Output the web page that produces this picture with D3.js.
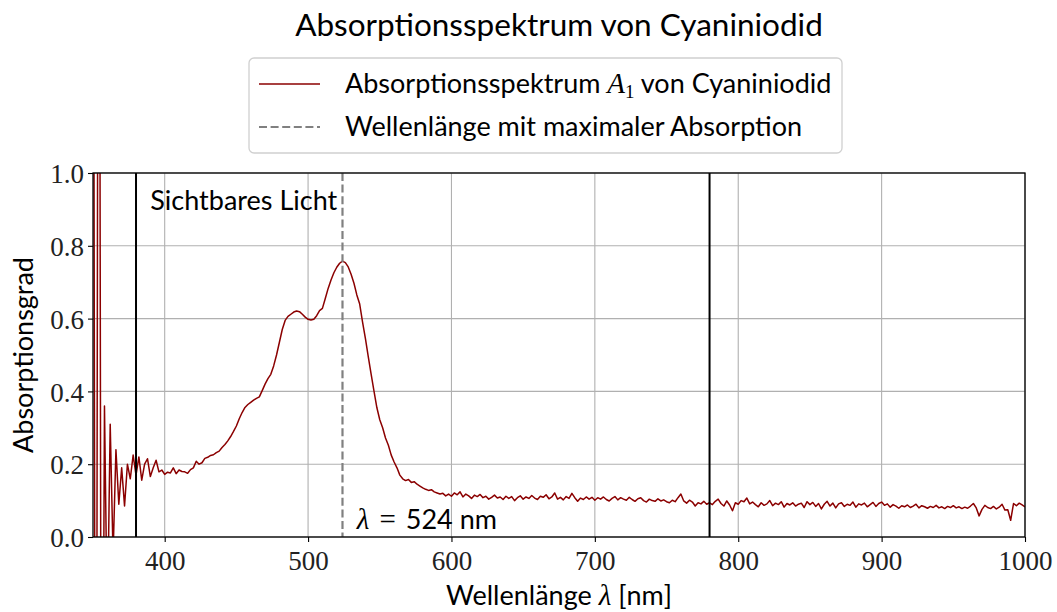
<!DOCTYPE html>
<html>
    <head>
        <meta charset="utf-8">
        <title>Absorptionsspektrum</title>
        <style>
            body { margin: 0; background: #fff; }
            .sans { font-family: Lato, "Open Sans", sans-serif; }
            .serif { font-family: "Liberation Serif", "DejaVu Serif", serif; }
        </style>
    </head>
    <body>

        <script type="text/javascript" src="https://d3js.org/d3.v7.min.js"></script>
        <script type="text/javascript">
            // wavelengths: 350 nm to 1000 nm in 2 nm steps
            var lambdaStart = 350;
            var lambdaStep = 2;
            var absorbance = [
                // 350 - 398
                2.6, -1.9, 3.0, -1.4, 0.36, -0.25, 0.31, -0.05, 0.24, 0.09,
                0.19, 0.085, 0.20, 0.16, 0.225, 0.17, 0.22, 0.156, 0.20, 0.215,
                0.166, 0.19, 0.211, 0.179, 0.184,
                // 400 - 448
                0.172, 0.178, 0.176, 0.19, 0.174, 0.184, 0.18, 0.179, 0.175, 0.185,
                0.19, 0.208, 0.2, 0.204, 0.216, 0.219, 0.224, 0.226, 0.232, 0.236,
                0.246, 0.254, 0.264, 0.276, 0.29,
                // 450 - 498
                0.305, 0.325, 0.342, 0.356, 0.364, 0.37, 0.376, 0.381, 0.385, 0.402,
                0.42, 0.435, 0.447, 0.47, 0.5, 0.535, 0.57, 0.595, 0.606, 0.612,
                0.618, 0.621, 0.619, 0.612, 0.604,
                // 500 - 548
                0.598, 0.596, 0.598, 0.608, 0.622, 0.628, 0.655, 0.683, 0.706, 0.726,
                0.741, 0.752, 0.758, 0.754, 0.742, 0.722, 0.697, 0.665, 0.64, 0.59,
                0.545, 0.495, 0.447, 0.40, 0.355,
                // 550 - 598
                0.322, 0.30, 0.272, 0.252, 0.225, 0.206, 0.19, 0.17, 0.16, 0.155,
                0.158, 0.15, 0.152, 0.145, 0.14, 0.135, 0.131, 0.128, 0.13, 0.124,
                0.121, 0.118, 0.12, 0.113, 0.118,
                // 600 - 700
                0.112, 0.121, 0.116, 0.124, 0.110, 0.118, 0.113, 0.106, 0.115, 0.111,
                0.117, 0.108, 0.112, 0.104, 0.109, 0.115, 0.107, 0.110, 0.103, 0.112,
                0.106, 0.111, 0.100, 0.108, 0.113, 0.104, 0.110, 0.106, 0.114, 0.107,
                0.103, 0.112, 0.109, 0.116, 0.105, 0.110, 0.121, 0.104, 0.109, 0.102,
                0.111, 0.106, 0.120, 0.108, 0.098, 0.107, 0.103, 0.110, 0.104, 0.109,
                0.101,
                // 702 - 800
                0.108, 0.104, 0.110, 0.103, 0.099, 0.106, 0.111, 0.102, 0.108, 0.104,
                0.101, 0.109, 0.103, 0.098, 0.105, 0.108, 0.100, 0.096, 0.104, 0.100,
                0.098, 0.105, 0.099, 0.102, 0.097, 0.094, 0.101, 0.097, 0.108, 0.118,
                0.099, 0.093, 0.101, 0.096, 0.085, 0.094, 0.091, 0.098, 0.090, 0.094,
                0.089, 0.098, 0.104, 0.092, 0.085, 0.099, 0.088, 0.072, 0.094, 0.090,
                // 802 - 900
                0.100, 0.097, 0.107, 0.091, 0.096, 0.089, 0.083, 0.094, 0.087, 0.091,
                0.100, 0.086, 0.093, 0.089, 0.097, 0.082, 0.092, 0.088, 0.094, 0.085,
                0.090, 0.093, 0.081, 0.097, 0.089, 0.095, 0.084, 0.092, 0.077, 0.090,
                0.098, 0.085, 0.093, 0.080, 0.091, 0.094, 0.084, 0.090, 0.087, 0.096,
                0.082, 0.091, 0.088, 0.093, 0.083, 0.089, 0.095, 0.084, 0.092, 0.096,
                // 902 - 1000
                0.087, 0.091, 0.082, 0.089, 0.085, 0.079, 0.086, 0.083, 0.088, 0.081,
                0.085, 0.090, 0.080, 0.086, 0.083, 0.079, 0.084, 0.081, 0.087, 0.080,
                0.083, 0.078, 0.084, 0.081, 0.086, 0.080, 0.083, 0.078, 0.082, 0.079,
                0.085, 0.092, 0.080, 0.058, 0.076, 0.087, 0.081, 0.078, 0.084, 0.077,
                0.082, 0.090, 0.074, 0.075, 0.046, 0.092, 0.086, 0.093, 0.088, 0.083
            ];
            var visibleBounds = [380, 780];
            var peakLambda = 524;
            var xTicks = [400, 500, 600, 700, 800, 900, 1000];
            var yTicks = [0.0, 0.2, 0.4, 0.6, 0.8, 1.0];

            var width = 1057, height = 612;
            var margin = {left: 93, right: 32, top: 173, bottom: 75};
            var plotW = width - margin.left - margin.right;
            var plotH = height - margin.top - margin.bottom;
            var labelSize = 27;

            var spectrum = absorbance.map(function(a, i){
                return {x: lambdaStart + i*lambdaStep, y: a};
            });

            var xScale = d3.scaleLinear()
                .domain([350, 1000])
                .range([0, plotW]);

            var yScale = d3.scaleLinear()
                .domain([0, 1])
                .range([plotH, 0]);

            var svg = d3.select('body')
                .append('svg')
                .attr('width', width)
                .attr('height', height);

            svg.append('defs').append('clipPath')
                .attr('id', 'plotclip')
                .append('rect')
                .attr('width', plotW)
                .attr('height', plotH);

            var g = svg.append('g')
                .attr('transform', 'translate(' + margin.left + ',' + margin.top + ')');

            // grid
            g.selectAll('.vgrid')
                .data(xTicks)
                .enter()
                .append('line')
                .attr('x1', function(d){ return xScale(d); })
                .attr('x2', function(d){ return xScale(d); })
                .attr('y1', 0)
                .attr('y2', plotH)
                .attr('stroke', '#b0b0b0')
                .attr('stroke-width', 1.1);

            g.selectAll('.hgrid')
                .data(yTicks)
                .enter()
                .append('line')
                .attr('x1', 0)
                .attr('x2', plotW)
                .attr('y1', function(d){ return yScale(d); })
                .attr('y2', function(d){ return yScale(d); })
                .attr('stroke', '#b0b0b0')
                .attr('stroke-width', 1.1);

            var plot = g.append('g').attr('clip-path', 'url(#plotclip)');

            // spectrum
            var line = d3.line()
                .x(function(d){ return xScale(d.x); })
                .y(function(d){ return yScale(d.y); });

            plot.append('path')
                .datum(spectrum)
                .attr('d', line)
                .attr('fill', 'none')
                .attr('stroke', '#8b0000')
                .attr('stroke-width', 1.5)
                .attr('stroke-linejoin', 'round');

            // visible light bounds
            plot.selectAll('.bound')
                .data(visibleBounds)
                .enter()
                .append('line')
                .attr('x1', function(d){ return xScale(d); })
                .attr('x2', function(d){ return xScale(d); })
                .attr('y1', 0)
                .attr('y2', plotH)
                .attr('stroke', '#000')
                .attr('stroke-width', 2);

            // peak
            plot.append('line')
                .attr('x1', xScale(peakLambda))
                .attr('x2', xScale(peakLambda))
                .attr('y1', 0)
                .attr('y2', plotH)
                .attr('stroke', '#808080')
                .attr('stroke-width', 2.2)
                .attr('stroke-dasharray', '8,3.6');

            // axes
            var xAxis = d3.axisBottom(xScale)
                .tickValues(xTicks)
                .tickSize(5)
                .tickPadding(4)
                .tickFormat(d3.format('d'));

            var yAxis = d3.axisLeft(yScale)
                .tickValues(yTicks)
                .tickSize(5)
                .tickPadding(4)
                .tickFormat(d3.format('.1f'));

            var xg = g.append('g')
                .attr('transform', 'translate(0,' + plotH + ')')
                .call(xAxis);
            var yg = g.append('g').call(yAxis);

            [xg, yg].forEach(function(a){
                a.select('.domain').remove();
                a.selectAll('line').attr('stroke', '#000').attr('stroke-width', 1.1);
                a.selectAll('text')
                    .attr('class', 'serif')
                    .attr('font-size', 27)
                    .attr('fill', '#222');
            });
            xg.selectAll('text').attr('dy', '0.9em');
            yg.selectAll('text').attr('dy', '0.36em');

            g.append('rect')
                .attr('width', plotW)
                .attr('height', plotH)
                .attr('fill', 'none')
                .attr('stroke', '#000')
                .attr('stroke-width', 1.3);

            // annotations
            g.append('text')
                .attr('class', 'sans')
                .attr('x', xScale(390))
                .attr('y', 37)
                .attr('font-size', labelSize)
                .text('Sichtbares Licht');

            var peakLabel = g.append('text')
                .attr('x', xScale(534))
                .attr('y', plotH - 8)
                .attr('font-size', labelSize);
            peakLabel.append('tspan').attr('class', 'serif').attr('font-style', 'italic').attr('font-size', 29).text('λ');
            peakLabel.append('tspan').attr('class', 'serif').attr('dx', 10).attr('font-size', 29).text('=');
            peakLabel.append('tspan').attr('class', 'sans').attr('dx', 10).text('524 nm');

            // axis labels
            var xLabel = svg.append('text')
                .attr('class', 'sans')
                .attr('x', margin.left + plotW/2)
                .attr('y', 605)
                .attr('text-anchor', 'middle')
                .attr('font-size', labelSize);
            xLabel.append('tspan').text('Wellenlänge ');
            xLabel.append('tspan').attr('class', 'serif').attr('font-style', 'italic').attr('font-size', 29).text('λ');
            xLabel.append('tspan').text(' [nm]');

            svg.append('text')
                .attr('class', 'sans')
                .attr('transform', 'translate(33,' + (margin.top + plotH/2) + ') rotate(-90)')
                .attr('text-anchor', 'middle')
                .attr('font-size', labelSize)
                .text('Absorptionsgrad');

            // title
            svg.append('text')
                .attr('class', 'sans')
                .attr('x', margin.left + plotW/2)
                .attr('y', 36)
                .attr('text-anchor', 'middle')
                .attr('font-size', 31.5)
                .text('Absorptionsspektrum von Cyaniniodid');

            // legend
            var legend = svg.append('g').attr('transform', 'translate(249,58)');
            legend.append('rect')
                .attr('width', 593)
                .attr('height', 95)
                .attr('rx', 5)
                .attr('fill', '#fff')
                .attr('stroke', '#d0d0d0')
                .attr('stroke-width', 1.3);

            legend.append('line')
                .attr('x1', 10).attr('x2', 71)
                .attr('y1', 26).attr('y2', 26)
                .attr('stroke', '#8b0000')
                .attr('stroke-width', 1.5);
            legend.append('line')
                .attr('x1', 10).attr('x2', 71)
                .attr('y1', 69).attr('y2', 69)
                .attr('stroke', '#808080')
                .attr('stroke-width', 2.2)
                .attr('stroke-dasharray', '8,3.6');

            var l1 = legend.append('text')
                .attr('class', 'sans')
                .attr('x', 96)
                .attr('y', 35)
                .attr('font-size', labelSize);
            l1.append('tspan').text('Absorptionsspektrum ');
            l1.append('tspan').attr('class', 'serif').attr('font-style', 'italic').attr('font-size', 29).text('A');
            l1.append('tspan').attr('class', 'serif').attr('font-size', 19).attr('dy', 5).text('1');
            l1.append('tspan').attr('dy', -5).text(' von Cyaniniodid');

            legend.append('text')
                .attr('class', 'sans')
                .attr('x', 96)
                .attr('y', 78)
                .attr('font-size', labelSize)
                .text('Wellenlänge mit maximaler Absorption');
        </script>

    </body>
</html>
